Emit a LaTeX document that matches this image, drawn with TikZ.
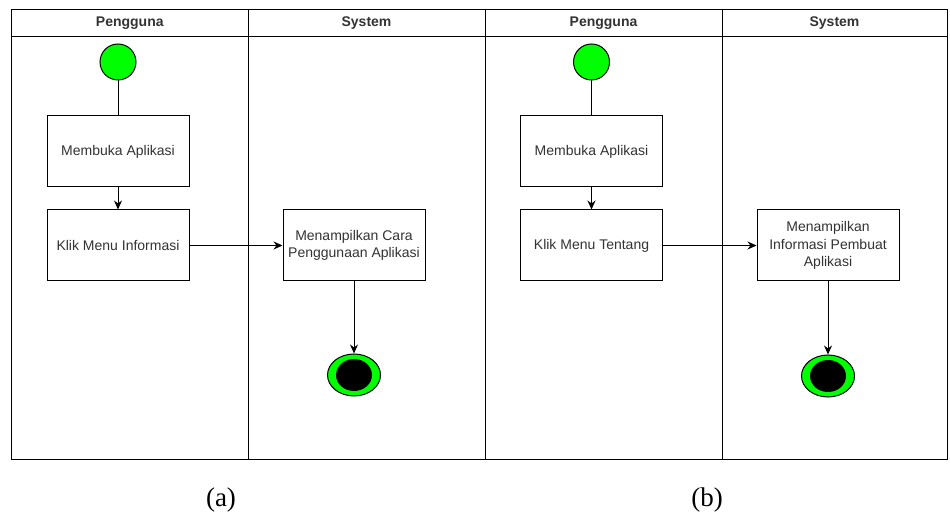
\documentclass[tikz,border=0pt]{standalone}
\usepackage{fontspec}
\setmainfont{Liberation Serif}
\newfontfamily\boxfont{Liberation Sans}
\usetikzlibrary{calc}
\usetikzlibrary{shapes}
\usetikzlibrary{arrows.meta}
\definecolor{startgreen}{RGB}{0,255,0}
\definecolor{txtgray}{RGB}{51,51,51}
\tikzset{
    lanehead/.style={font=\boxfont\bfseries\fontsize{14}{16}\selectfont, text=txtgray},
    actbox/.style={draw, line width=1pt, fill=white, minimum width=142pt, minimum height=71pt, align=center, inner sep=2pt, font=\boxfont\fontsize{14}{17.5}\selectfont, text=txtgray},
    startdot/.style={circle, draw, line width=1pt, fill=startgreen, minimum size=36pt, inner sep=0pt},
    enddot/.style={ellipse, draw, line width=1pt, fill=startgreen, minimum width=53pt, minimum height=42pt, inner sep=0pt},
    endcore/.style={ellipse, fill=black, minimum width=36pt, minimum height=32pt, inner sep=0pt},
    flow/.style={line width=1pt, -{Stealth[length=9pt,width=8pt]}},
    caption/.style={font=\fontsize{27}{30}\selectfont}
}
\newcommand{\lane}[4]{ \draw[line width=1pt] ( #1 , 9.5 ) rectangle ( #2 , 459 ); \draw[line width=1pt] ( #1 , 37 ) -- ( #2 , 37 ); \node[lanehead] (#3) at ( #1 * 0.5 + #2 * 0.5 , 23 ) {#4};}
\begin{document}
\begin{tikzpicture}[x=1pt, y=-1pt]
        \useasboundingbox (0,0) rectangle (950,518);
        % diagram a
        \lane{11.5}{248}{userA}{Pengguna}
        \lane{248}{485}{sysA}{System}
        \node[startdot] (startA) at (118,62) {};
        \node[actbox] (bukaA) at (118,151.5) {Membuka Aplikasi};
        \node[actbox] (klikA) at (118,245.5) {Klik Menu Informasi};
        \node[actbox] (tampilA) at (354,245.5) {Menampilkan Cara\\Penggunaan Aplikasi};
        \node[enddot] (endA) at (354,375) {};
        \node[endcore] (endAin) at (endA) {};
        \draw[line width=1pt] (startA) -- (bukaA);
        \draw[flow] (bukaA) -- (klikA);
        \draw[flow] (klikA) -- (tampilA);
        \draw[flow] (tampilA) -- (endA.north);
        \node[caption] (capA) at (221,500) {(a)};
        % diagram b
        \lane{485}{722}{userB}{Pengguna}
        \lane{722}{947}{sysB}{System}
        \node[startdot] (startB) at (591.5,62) {};
        \node[actbox] (bukaB) at (591.5,151.5) {Membuka Aplikasi};
        \node[actbox] (klikB) at (591.5,245.5) {Klik Menu Tentang};
        \node[actbox] (tampilB) at (828,245.5) {Menampilkan\\Informasi Pembuat\\Aplikasi};
        \node[enddot] (endB) at (828,376) {};
        \node[endcore] (endBin) at (endB) {};
        \draw[line width=1pt] (startB) -- (bukaB);
        \draw[flow] (bukaB) -- (klikB);
        \draw[flow] (klikB) -- (tampilB);
        \draw[flow] (tampilB) -- (endB.north);
        \node[caption] (capB) at (707,500) {(b)};
    \end{tikzpicture}
\end{document}
